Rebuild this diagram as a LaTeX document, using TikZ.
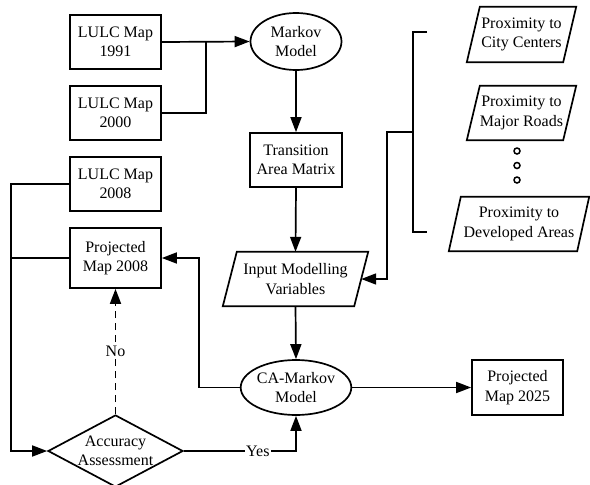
\documentclass[tikz,border=0pt]{standalone}
\usepackage{fontspec}
\setmainfont{Liberation Serif}
\usetikzlibrary{arrows.meta,shapes.geometric}
\newcommand\slantbox[2]{\draw[lw] ([xshift=-#2]#1.south west) -- ([xshift=#2]#1.north west) -- ([xshift=#2]#1.north east) -- ([xshift=-#2]#1.south east) -- cycle;}
\begin{document}
\begin{tikzpicture}[x=1pt,y=-1pt,
  lw/.style={line width=1.7pt},
  every node/.style={font=\fontsize{16}{19.5}\selectfont, align=center, inner sep=0pt},
  box/.style={draw, lw, rectangle, minimum width=91pt, minimum height=54pt},
  ell/.style={draw, lw, ellipse},
  slant/.style={rectangle},
  dia/.style={draw, lw, diamond, minimum width=135pt, minimum height=72pt, aspect=1.875},
  dot/.style={draw, line width=1.5pt, circle, minimum size=6pt},
  arr/.style={lw, -{Triangle[length=15pt,width=11pt]}},
  lbl/.style={fill=white, inner sep=1pt}]
\useasboundingbox (0,0) rectangle (590,485);
\fill[white] (0,0) rectangle (590,485);

\node[box] (m1991) at (115.5,42) {LULC Map\\1991};
\node[box] (m2000) at (115.5,113) {LULC Map\\2000};
\node[box] (m2008) at (115.5,184) {LULC Map\\2008};
\node[box, minimum height=60pt] (p2008) at (115.5,258) {Projected\\Map 2008};
\node[ell, minimum width=91pt, minimum height=57pt] (markov) at (296,41.5) {Markov\\Model};
\node[box, minimum width=92pt] (trans) at (296,160) {Transition\\Area Matrix};
\node[slant, minimum width=131pt, minimum height=54pt] (input) at (295.5,279) {Input Modelling\\Variables};
\slantbox{input}{7pt}
\node[slant, minimum width=96pt, minimum height=55pt] (city) at (521.5,34.5) {Proximity to\\City Centers};
\slantbox{city}{6.5pt}
\node[slant, minimum width=96pt, minimum height=54pt] (roads) at (521.5,113) {Proximity to\\Major Roads};
\slantbox{roads}{6.5pt}
\node[slant, minimum width=128pt, minimum height=54pt] (dev) at (519,224) {Proximity to\\Developed Areas};
\slantbox{dev}{6pt}
\node[dot] (d1) at (517,151) {};
\node[dot] (d2) at (517,165.5) {};
\node[dot] (d3) at (517,180) {};
\node[ell, minimum width=109pt, minimum height=55pt] (ca) at (296,387.5) {CA-Markov\\Model};
\node[box, minimum height=55pt] (p2025) at (517.5,387.5) {Projected\\Map 2025};
\node[dia] (acc) at (115.5,451) {Accuracy\\Assessment};

% connectors
\coordinate (j1) at (206,42);
\draw[arr] (m1991.east) -- (markov.west);
\draw[lw] (m2000.east) -| (j1);
\draw[arr] (markov.south) -- (trans.north);
\draw[arr] (trans.south) -- (input.north);
\coordinate (bt) at (427,32);
\coordinate (bb) at (427,232);
\coordinate (jb) at (413,132);
\draw[lw] (bt) -- (413,32) -- (413,232) -- (bb);
\draw[arr] (jb) -- (387,132) |- (input.east);
\draw[arr] (input.south) -- (ca.north);
\draw[arr] (ca.east) -- (p2025.west);
\draw[arr] (ca.west) -- ++(-41,0) |- (p2008.east);
\draw[arr] (m2008.west) -- ++(-58,0) |- (acc.west);
\draw[lw] (p2008.west) -- ++(-58,0);
\draw[arr, dash pattern=on 7pt off 5pt] (acc.north) -- (p2008.south) node[lbl, pos=0.5] {No};
\draw[arr] (acc.east) -| (ca.south) node[lbl, pos=0.33] {Yes};
\end{tikzpicture}
\end{document}
